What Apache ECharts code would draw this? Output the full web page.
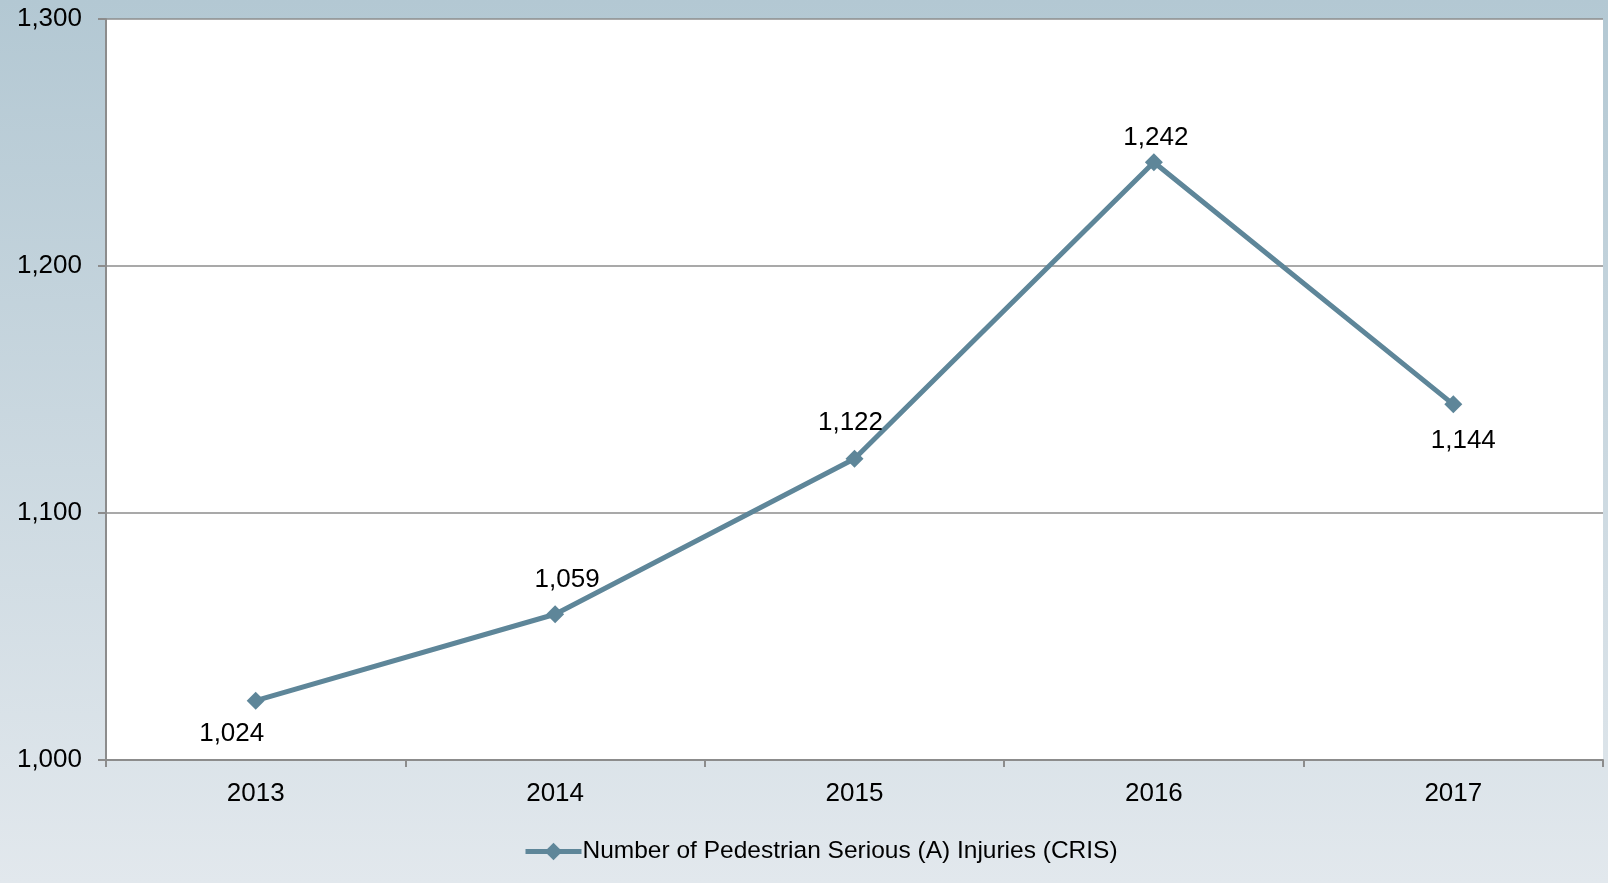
<!DOCTYPE html>
<html>
<head>
<meta charset="utf-8">
<script src="https://cdn.jsdelivr.net/npm/echarts@6/dist/echarts.min.js"></script>
<style>
  html, body { margin: 0; padding: 0; }
  #chart { width: 1608px; height: 883px; }
</style>
</head>
<body>
<div id="chart"></div>
<script>
	// data
	var years = ['2013', '2014', '2015', '2016', '2017'];
	var injuries = [1024, 1059, 1122, 1242, 1144];
	var seriesName = 'Number of Pedestrian Serious (A) Injuries (CRIS)';

	// where each value label sits (style only, not data)
	var labelSide = ['bottom', 'top', 'top', 'top', 'bottom'];
	var labelShift = [[-24, 0], [12, 0], [-4, 0], [2, 0], [10, 0]];
	var labelGap = [11, 12, 14, 2, 15];

	var lineColor = '#5e8699';
	var fontFam = '"Liberation Sans", Arial, sans-serif';

	var myChart = echarts.init(document.getElementById('chart'));
	var option = {
		backgroundColor: {
			type: 'linear', x: 0, y: 0, x2: 0, y2: 1,
			colorStops: [
				{ offset: 0, color: '#b3c8d3' },
				{ offset: 1, color: '#e2e8ed' }
			]
		},
		textStyle: { fontFamily: fontFam },
		animation: false,
		grid: {
			left: 106,
			right: 5,
			top: 19,
			bottom: 123,
			show: true,
			backgroundColor: '#ffffff',
			borderWidth: 0
		},
		legend: {
			bottom: 14,
			left: 518,
			itemWidth: 56,
			itemHeight: 22,
			itemGap: 4,
			data: [seriesName],
			lineStyle: { width: 5 },
			textStyle: {
				fontSize: 24.5,
				color: '#000',
				padding: [0, 0, 0, -4]
			}
		},
		xAxis: {
			type: 'category',
			data: years,
			boundaryGap: true,
			axisLine: { lineStyle: { color: '#8c8c8c', width: 2 } },
			axisTick: { show: true, length: 7, lineStyle: { color: '#8c8c8c', width: 2 } },
			axisLabel: { color: '#000', fontSize: 26, margin: 21 }
		},
		yAxis: {
			type: 'value',
			min: 1000,
			max: 1300,
			interval: 100,
			axisLine: { show: true, lineStyle: { color: '#8c8c8c', width: 2 } },
			axisTick: { show: true, length: 8, lineStyle: { color: '#8c8c8c', width: 2 } },
			splitLine: { lineStyle: { color: '#8c8c8c', width: 1.5 } },
			axisLabel: {
				color: '#000',
				fontSize: 26,
				margin: 24,
				formatter: function(v) { return v.toLocaleString('en-US'); }
			}
		},
		series: [{
			name: seriesName,
			type: 'line',
			data: injuries.map(function(v, i) {
				return {
					value: v,
					label: { position: labelSide[i], offset: labelShift[i], distance: labelGap[i] }
				};
			}),
			symbol: 'diamond',
			symbolSize: 18,
			lineStyle: { color: lineColor, width: 5 },
			itemStyle: { color: lineColor },
			label: {
				show: true,
				color: '#000',
				fontSize: 26,
				formatter: function(p) { return p.value.toLocaleString('en-US'); }
			}
		}]
	};
	myChart.setOption(option);
</script>
</body>
</html>
